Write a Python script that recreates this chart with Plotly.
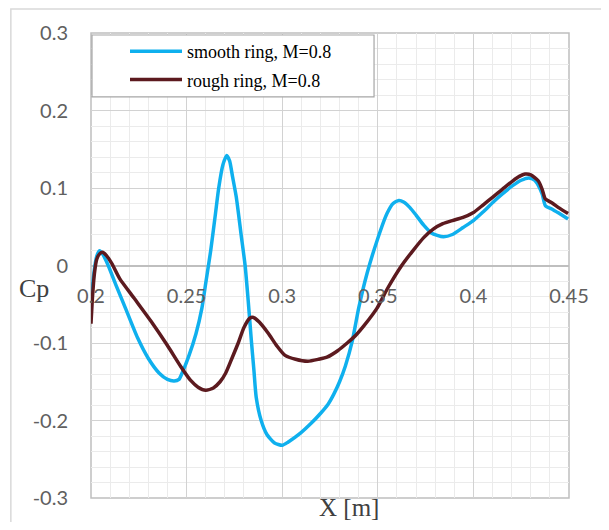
import plotly.graph_objects as go

# ---- data ----
smooth_x = [0.200, 0.2015, 0.203, 0.2045, 0.206, 0.209, 0.213, 0.218, 0.2243, 0.230,
            0.2357, 0.240, 0.2435, 0.246, 0.2476, 0.251, 0.2549, 0.258, 0.260, 0.2626,
            0.265, 0.2668, 0.269, 0.271, 0.2725, 0.274, 0.276, 0.2785, 0.2806, 0.2822,
            0.2838, 0.2852, 0.2864, 0.289, 0.292, 0.296, 0.300, 0.303, 0.3097, 0.315,
            0.320, 0.324, 0.327, 0.330, 0.333, 0.3367, 0.340, 0.3444, 0.3496, 0.3548,
            0.358, 0.361, 0.3635, 0.3667, 0.370, 0.374, 0.378, 0.3843, 0.389, 0.3946,
            0.400, 0.405, 0.410, 0.415, 0.4205, 0.425, 0.429, 0.432, 0.434, 0.436,
            0.4377, 0.441, 0.445, 0.4495]
smooth_cp = [-0.050, -0.010, 0.012, 0.019, 0.015, 0.000, -0.025, -0.055, -0.093, -0.120,
             -0.139, -0.147, -0.149, -0.147, -0.139, -0.118, -0.088, -0.055, -0.023, 0.019,
             0.065, 0.100, 0.130, 0.142, 0.135, 0.115, 0.088, 0.040, 0.000, -0.045,
             -0.095, -0.135, -0.170, -0.200, -0.218, -0.229, -0.232, -0.228, -0.216, -0.204,
             -0.191, -0.179, -0.166, -0.150, -0.130, -0.097, -0.055, -0.010, 0.032, 0.067,
             0.080, 0.084, 0.082, 0.075, 0.065, 0.052, 0.042, 0.037, 0.040, 0.049,
             0.058, 0.069, 0.081, 0.092, 0.103, 0.110, 0.113, 0.110, 0.103, 0.092,
             0.077, 0.073, 0.067, 0.060]

rough_x = [0.200, 0.2008, 0.2018, 0.203, 0.2045, 0.206, 0.208, 0.211, 0.215, 0.2228,
           0.2314, 0.2399, 0.2471, 0.252, 0.256, 0.260, 0.264, 0.2675, 0.2704, 0.274,
           0.277, 0.280, 0.283, 0.285, 0.288, 0.2927, 0.297, 0.3015, 0.307, 0.3134,
           0.319, 0.3237, 0.329, 0.334, 0.3385, 0.343, 0.3496, 0.355, 0.3625, 0.368,
           0.374, 0.379, 0.384, 0.389, 0.3946, 0.3998, 0.405, 0.410, 0.415, 0.4205,
           0.424, 0.427, 0.430, 0.434, 0.436, 0.4376, 0.441, 0.445, 0.4495]
rough_cp = [-0.075, -0.040, -0.010, 0.008, 0.015, 0.017, 0.013, 0.002, -0.017, -0.043,
            -0.072, -0.103, -0.131, -0.148, -0.157, -0.161, -0.158, -0.150, -0.139, -0.118,
            -0.100, -0.080, -0.068, -0.067, -0.073, -0.0875, -0.103, -0.116, -0.121, -0.1235,
            -0.121, -0.118, -0.110, -0.100, -0.090, -0.077, -0.055, -0.030, 0.000, 0.018,
            0.036, 0.047, 0.054, 0.058, 0.062, 0.068, 0.078, 0.088, 0.098, 0.109,
            0.115, 0.118, 0.117, 0.109, 0.098, 0.086, 0.081, 0.074, 0.067]

series_names = ["smooth ring, M=0.8", "rough ring, M=0.8"]
x_tick_vals = [0.2, 0.25, 0.3, 0.35, 0.4, 0.45]
x_tick_text = ["0.2", "0.25", "0.3", "0.35", "0.4", "0.45"]
y_tick_vals = [-0.3, -0.2, -0.1, 0, 0.1, 0.2, 0.3]
y_tick_text = ["-0.3", "-0.2", "-0.1", "0", "0.1", "0.2", "0.3"]

# ---- figure (page body has an 8px margin) ----
OFF = 8
W, H = 609 - 2 * OFF, 530 - 2 * OFF
ML, MR, MT, MB = 91 - OFF, 27, 32 - OFF, 24
PW, PH = W - ML - MR, H - MT - MB


def px_x(px):
    return (px - OFF - ML) / PW


def px_y(py):
    return (H - MB - (py - OFF)) / PH


fig = go.Figure()
fig.add_trace(go.Scatter(x=smooth_x, y=smooth_cp, mode="lines", name=series_names[0],
                         legendgroup="a",
                         line=dict(color="#0FB0EE", width=3.5, shape="spline", smoothing=0.6)))
fig.add_trace(go.Scatter(x=rough_x, y=rough_cp, mode="lines", name=series_names[1],
                         legendgroup="b",
                         line=dict(color="#5C1A1F", width=3.5, shape="spline", smoothing=0.6)))

tick_font = dict(family="Lato", size=20, color="#606060")
major = "#D2D2D2"
minor = "#EBEBEB"

fig.update_layout(
    width=W, height=H,
    margin=dict(l=ML, r=MR, t=MT, b=MB, pad=0),
    paper_bgcolor="white", plot_bgcolor="white",
    showlegend=True,
    legend=dict(x=0.0, y=1.0, xanchor="left", yanchor="top", xref="paper", yref="paper",
                bgcolor="rgba(0,0,0,0)", borderwidth=0,
                font=dict(family="Liberation Serif", size=18, color="#000000"),
                traceorder="grouped", tracegroupgap=2, indentation=34, itemwidth=52),
    xaxis=dict(range=[0.2, 0.45], tickvals=x_tick_vals, ticktext=x_tick_text,
               showgrid=True, gridcolor=major, gridwidth=1,
               minor=dict(dtick=0.01, tick0=0.2, showgrid=True, gridcolor=minor, gridwidth=1),
               zeroline=False, showline=False, ticks="",
               anchor="free", position=0.5, tickfont=tick_font,
               ticklabelstandoff=16, fixedrange=True),
    yaxis=dict(range=[-0.3, 0.3], tickvals=y_tick_vals, ticktext=y_tick_text,
               showgrid=True, gridcolor=major, gridwidth=1,
               minor=dict(dtick=0.02, tick0=-0.3, showgrid=True, gridcolor=minor, gridwidth=1),
               zeroline=True, zerolinecolor="#BFBFBF", zerolinewidth=1.5,
               showline=False, ticks="", tickfont=tick_font,
               ticklabelstandoff=22, fixedrange=True),
)

# plot-area border
fig.add_shape(type="rect", xref="paper", yref="paper", x0=0, x1=1, y0=0, y1=1,
              line=dict(color="#BFBFBF", width=1.5), layer="below")
# outer chart frame
fig.add_shape(type="rect", xref="paper", yref="paper",
              x0=px_x(10), x1=px_x(640), y0=px_y(560), y1=px_y(8),
              line=dict(color="#D9D9D9", width=1.5), layer="below")
# legend box
fig.add_shape(type="rect", xref="paper", yref="paper",
              x0=px_x(92), x1=px_x(377), y0=px_y(96), y1=px_y(34),
              line=dict(color="#A6A6A6", width=1.2), fillcolor="white", layer="above")

# axis titles
fig.add_annotation(text="Cp", xref="paper", yref="paper",
                   x=px_x(33), y=px_y(288), showarrow=False,
                   xanchor="center", yanchor="middle",
                   font=dict(family="Liberation Serif", size=26, color="#404040"))
fig.add_annotation(text="X [m]", xref="paper", yref="paper",
                   x=px_x(352), y=px_y(508), showarrow=False,
                   xanchor="center", yanchor="middle",
                   font=dict(family="Liberation Serif", size=25, color="#404040"))

fig.write_html("out.html")
